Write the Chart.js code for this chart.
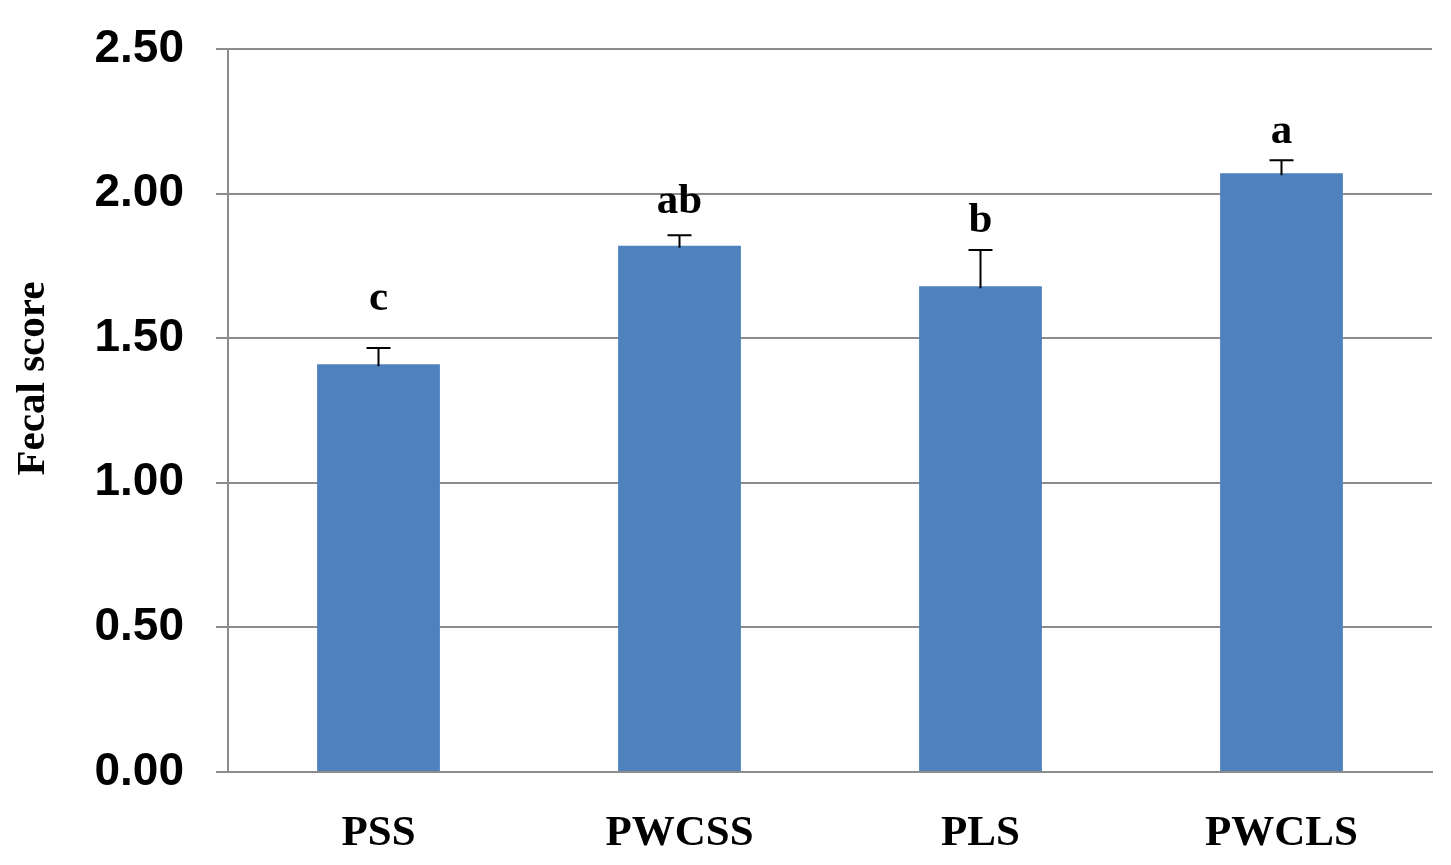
<!DOCTYPE html>
<html>
<head>
<meta charset="utf-8">
<script src="https://cdn.jsdelivr.net/npm/chart.js@4.4.1/dist/chart.umd.min.js"></script>
<style>
html,body{margin:0;padding:0;background:#fff;}
#wrap{width:1451px;height:865px;}
</style>
</head>
<body>
<div id="wrap"><canvas id="c" width="1451" height="865"></canvas></div>
<script>
const categories = ["PSS", "PWCSS", "PLS", "PWCLS"];
const fecalScore = [1.41, 1.82, 1.68, 2.07];
const errorSE = [0.056, 0.036, 0.125, 0.045];
const letters = ["c", "ab", "b", "a"];
const yTicks = [0, 0.5, 1.0, 1.5, 2.0, 2.5];
const yTitle = "Fecal score";

const errorBarPlugin = {
  id: 'errorBars',
  afterDatasetsDraw(chart, args, opts) {
    const ctx = chart.ctx;
    const meta = chart.getDatasetMeta(0);
    const y = chart.scales.y;
    ctx.save();
    meta.data.forEach((bar, i) => {
      const x = bar.x;
      const yTop = y.getPixelForValue(fecalScore[i] + errorSE[i]);
      const yBase = y.getPixelForValue(fecalScore[i]);
      ctx.strokeStyle = '#000';
      ctx.lineWidth = 2;
      ctx.beginPath();
      ctx.moveTo(x, yBase + 2);
      ctx.lineTo(x, yTop);
      ctx.moveTo(x - 12, yTop);
      ctx.lineTo(x + 12, yTop);
      ctx.stroke();
      ctx.fillStyle = '#000';
      ctx.font = 'bold 43px "Liberation Serif"';
      ctx.textAlign = 'center';
      ctx.textBaseline = 'alphabetic';
      ctx.fillText(letters[i], x, yTop - opts.offsets[i]);
    });
    // y-axis title
    ctx.translate(33, (y.top + y.bottom) / 2 - 32);
    ctx.rotate(-Math.PI / 2);
    ctx.font = 'bold 41px "Liberation Serif"';
    ctx.textAlign = 'center';
    ctx.textBaseline = 'middle';
    ctx.fillText(yTitle, 0, 0);
    ctx.restore();
  }
};

new Chart(document.getElementById('c'), {
  type: 'bar',
  data: {
    labels: categories,
    datasets: [{
      data: fecalScore,
      backgroundColor: '#4f81bd',
      borderWidth: 0,
      categoryPercentage: 1.0,
      barPercentage: 0.408
    }]
  },
  options: {
    responsive: false,
    animation: false,
    devicePixelRatio: 1,
    layout: { padding: { top: 49, right: 19, left: 0, bottom: 0 } },
    plugins: {
      legend: { display: false },
      tooltip: { enabled: false },
      errorBars: { offsets: [38, 22, 18, 17] }
    },
    scales: {
      x: {
        grid: { display: false, drawTicks: false },
        border: { display: true, color: '#8c8c8c', width: 2 },
        ticks: {
          color: '#000',
          font: { family: '"Liberation Serif"', size: 43, weight: 'bold' },
          padding: 36,
          maxRotation: 0
        },
        afterFit(scale) { scale.height = 93; scale.paddingLeft = 0; scale.paddingRight = 0; }
      },
      y: {
        min: 0,
        max: 2.5,
        afterBuildTicks(scale) { scale.ticks = yTicks.map(v => ({ value: v })); },
        grid: { color: '#8c8c8c', lineWidth: 2, tickLength: 12, drawTicks: true },
        border: { display: true, color: '#8c8c8c', width: 2 },
        ticks: {
          color: '#000',
          font: { family: '"Liberation Sans"', size: 46, weight: 'bold' },
          padding: 32,
          callback: v => Number(v).toFixed(2)
        },
        afterFit(scale) { scale.width = 228; scale.paddingTop = 0; scale.paddingBottom = 0; }
      }
    }
  },
  plugins: [errorBarPlugin]
});
</script>
</body>
</html>
